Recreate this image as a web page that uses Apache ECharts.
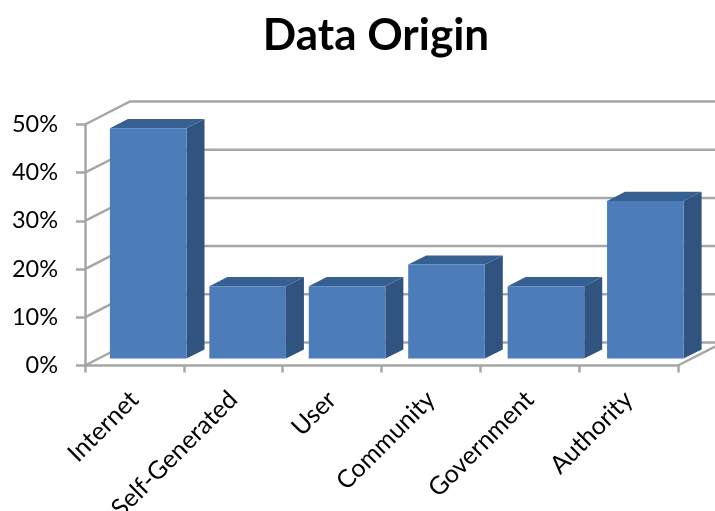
<!DOCTYPE html>
<html><head><meta charset="utf-8">
<style>html,body{margin:0;padding:0;background:#fff}#c{width:715px;height:511px}</style>
<script src="https://cdn.jsdelivr.net/npm/echarts@6/dist/echarts.min.js"></script>
</head><body><div id="c"></div>
<script>
var titleText = 'Data Origin';
var categories = ['Internet','Self-Generated','User','Community','Government','Authority'];
var values = [47.8,15,15,19.5,15,32.7];
var yTicks = [0,10,20,30,40,50];

var GREY = '#A6A6A6', FRONT = '#4C7DBA', SIDE = '#31537F', TOP = '#365F92';
var LINE_W = 2.5;
var DX = 45, DY = -23;           // depth of the 3D box
var BAR_NEAR = 0.3, BAR_DEPTH = 0.4, BAR_WIDTH = 0.775, PERSPECTIVE = 1.006;

function wallItem(params, api) {
  var v = api.value(0);
  var slot = api.size([1, 0])[0];
  var first = api.coord([0, v]), last = api.coord([categories.length - 1, v]);
  var xl = first[0] - slot / 2, xr = last[0] + slot / 2, y = first[1];
  var style = {stroke: GREY, lineWidth: LINE_W, fill: null};
  var kids = [
    {type: 'polyline', shape: {points: [[xl, y], [xl + DX, y + DY], [xr + DX, y + DY]]}, style: style}
  ];
  if (v === 0) kids.push({type: 'line', shape: {x1: xr, y1: y, x2: xr + DX, y2: y + DY}, style: style});
  return {type: 'group', children: kids};
}
function barItem(params, api) {
  var idx = api.value(0), v = api.value(1);
  var slot = api.size([1, 0])[0], w = slot * BAR_WIDTH;
  var base = api.coord([idx, 0]), top = api.coord([idx, v]);
  var start = api.coord([0, 0])[0] - slot / 2;
  var cx = start + (base[0] - start) * PERSPECTIVE;
  var x0 = cx + DX * BAR_NEAR - w / 2, x1 = x0 + w;
  var yb = base[1] + DY * BAR_NEAR, yt = top[1] + DY * BAR_NEAR;
  var dx = DX * BAR_DEPTH, dy = DY * BAR_DEPTH;
  return {type: 'group', children: [
    {type: 'polygon', shape: {points: [[x1, yb], [x1 + dx, yb + dy], [x1 + dx, yt + dy], [x1, yt]]}, style: {fill: SIDE}},
    {type: 'polygon', shape: {points: [[x0, yt], [x1, yt], [x1 + dx, yt + dy], [x0 + dx, yt + dy]]}, style: {fill: TOP}},
    {type: 'rect', shape: {x: x0, y: yt, width: w, height: yb - yt}, style: {fill: FRONT}}
  ]};
}
var chart = echarts.init(document.getElementById('c'), null, {renderer: 'canvas'});
chart.setOption({
  animation: false,
  backgroundColor: '#fff',
  title: {text: titleText, left: 371, top: 9, textAlign: 'center',
    textStyle: {fontFamily: 'Lato', fontWeight: 'bold', fontSize: 44, color: '#000'}},
  grid: {left: 85, top: 124.5, width: 593, height: 241, outerBoundsMode: 'none'},
  xAxis: {type: 'category', data: categories, boundaryGap: true,
    axisLine: {lineStyle: {color: GREY, width: LINE_W}},
    axisTick: {show: true, length: 7, lineStyle: {color: GREY, width: LINE_W}},
    axisLabel: {interval: 0, rotate: 45, margin: 30, fontFamily: 'Lato', fontSize: 25, color: '#000'},
    splitLine: {show: false}},
  yAxis: {type: 'value', min: 0, max: 50, interval: 10,
    axisLine: {show: true, lineStyle: {color: GREY, width: LINE_W}},
    axisTick: {show: true, length: 9, lineStyle: {color: GREY, width: LINE_W}},
    axisLabel: {margin: 27, padding: [10, 0, 0, 0], formatter: '{value}%', fontFamily: 'Lato', fontSize: 23.5, color: '#000'},
    splitLine: {show: false}},
  series: [
    {type: 'custom', name: 'wall', z: 1, clip: false, data: yTicks.map(function (t) { return [t]; }),
      encode: {y: 0}, renderItem: wallItem, silent: true},
    {type: 'custom', name: 'Data Origin', z: 3, clip: false,
      data: values.map(function (v, i) { return [i, v]; }),
      encode: {x: 0, y: 1}, renderItem: barItem}
  ]
});
</script></body></html>
